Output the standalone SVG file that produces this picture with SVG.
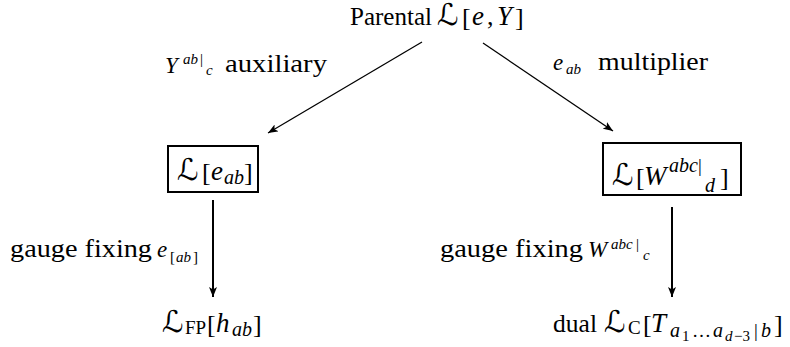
<svg xmlns="http://www.w3.org/2000/svg" width="790" height="347" viewBox="0 0 790 347">
<style>
text{font-family:"Liberation Serif",serif;fill:#000}
.w{font-size:26px}
.L{font-family:"DejaVu Serif","DejaVu Sans",serif;font-style:normal;font-size:30px}
.m{font-style:italic;font-size:27px}
.r{font-style:normal;font-size:26px}
.ml{font-style:italic;font-size:23px}
.ms{font-style:italic;font-size:20px}
.rs{font-style:normal;font-size:19px}
.mss{font-style:italic;font-size:15px}
.rss{font-style:normal;font-size:15px}
.mt{font-style:italic;font-size:15px}
.rt{font-style:normal;font-size:15px}
.box{fill:#fff;stroke:#000;stroke-width:2}
.edge{stroke:#000;fill:none}
</style>
<defs>
<marker id="ah" viewBox="0 0 10 8" refX="10" refY="4" markerWidth="10" markerHeight="8" markerUnits="userSpaceOnUse" orient="auto">
<path d="M0,0 L10,4 L0,8 L2.5,4 Z" fill="#000"/>
</marker>
</defs>
<g id="connectors">
<line class="edge" x1="422" y1="42" x2="268" y2="133" stroke-width="1.3" marker-end="url(#ah)"/>
<line class="edge" x1="483" y1="43" x2="613" y2="131" stroke-width="1.3" marker-end="url(#ah)"/>
<line class="edge" x1="213" y1="200" x2="213" y2="297" stroke-width="2" marker-end="url(#ah)"/>
<line class="edge" x1="672" y1="207" x2="672" y2="297" stroke-width="2" marker-end="url(#ah)"/>
</g>
<g id="edge-labels">
<text><tspan class="ml" x="165" y="73">Y</tspan><tspan class="mss" x="183" y="64">ab</tspan><tspan class="rss" x="200" y="64">|</tspan><tspan class="mss" x="206" y="75">c</tspan><tspan class="w" x="225" y="72" textLength="102" lengthAdjust="spacingAndGlyphs">auxiliary</tspan></text>
<text><tspan class="ml" x="553" y="70">e</tspan><tspan class="mss" x="566" y="74">ab</tspan><tspan class="w" x="598" y="70" textLength="110" lengthAdjust="spacingAndGlyphs">multiplier</tspan></text>
<text><tspan class="w" x="10" y="257" textLength="142" lengthAdjust="spacingAndGlyphs">gauge fixing</tspan><tspan class="ml" x="157" y="257">e</tspan><tspan class="rss" x="170" y="262">[</tspan><tspan class="mss" x="176" y="262">ab</tspan><tspan class="rss" x="193" y="262">]</tspan></text>
<text><tspan class="w" x="440" y="257" textLength="143" lengthAdjust="spacingAndGlyphs">gauge fixing</tspan><tspan class="ml" x="588" y="257">W</tspan><tspan class="mss" x="611" y="249">abc</tspan><tspan class="rss" x="636" y="249">|</tspan><tspan class="mss" x="643" y="260">c</tspan></text>
</g>
<g id="parental">
<text><tspan class="w" x="350" y="25" textLength="82" lengthAdjust="spacingAndGlyphs">Parental</tspan><tspan class="L" x="437" y="25" font-size="28">ℒ</tspan><tspan class="r" x="462" y="26">[</tspan><tspan class="m" x="472" y="25">e</tspan><tspan class="r" x="487" y="25">,</tspan><tspan class="m" x="497" y="25">Y</tspan><tspan class="r" x="515" y="26">]</tspan></text>
</g>
<g id="L-e">
<rect class="box" x="168" y="146" width="90" height="46"/>
<text><tspan class="L" x="177" y="180">ℒ</tspan><tspan class="r" x="202" y="181">[</tspan><tspan class="m" x="211" y="180">e</tspan><tspan class="ms" x="224" y="184">ab</tspan><tspan class="r" x="244" y="181">]</tspan></text>
</g>
<g id="L-W">
<rect class="box" x="603" y="143" width="138" height="52"/>
<text><tspan class="L" x="612" y="185">ℒ</tspan><tspan class="r" x="636" y="186">[</tspan><tspan class="m" x="644" y="185">W</tspan><tspan class="ms" x="669" y="172">abc</tspan><tspan class="rs" x="698" y="172">|</tspan><tspan class="ms" x="705" y="192">d</tspan><tspan class="r" x="720" y="186">]</tspan></text>
</g>
<g id="L-FP">
<text><tspan class="L" x="162" y="332">ℒ</tspan><tspan class="rs" x="185" y="334">FP</tspan><tspan class="r" x="207" y="333">[</tspan><tspan class="m" x="216" y="332">h</tspan><tspan class="ms" x="232" y="336">ab</tspan><tspan class="r" x="253" y="333">]</tspan></text>
</g>
<g id="L-C">
<text><tspan class="w" x="553" y="332" textLength="44" lengthAdjust="spacingAndGlyphs">dual</tspan><tspan class="L" x="604" y="332">ℒ</tspan><tspan class="rs" x="628" y="334">C</tspan><tspan class="r" x="643" y="333">[</tspan><tspan class="m" x="651" y="332">T</tspan><tspan class="ms" x="670" y="337">a</tspan><tspan class="rt" x="682" y="341">1</tspan><tspan class="rs" x="692" y="337">…</tspan><tspan class="ms" x="713" y="337">a</tspan><tspan class="mt" x="725" y="341">d</tspan><tspan class="rt" x="734" y="341">−3</tspan><tspan class="rs" x="754" y="337">|</tspan><tspan class="ms" x="761" y="337">b</tspan><tspan class="r" x="774" y="333">]</tspan></text>
</g>
</svg>
